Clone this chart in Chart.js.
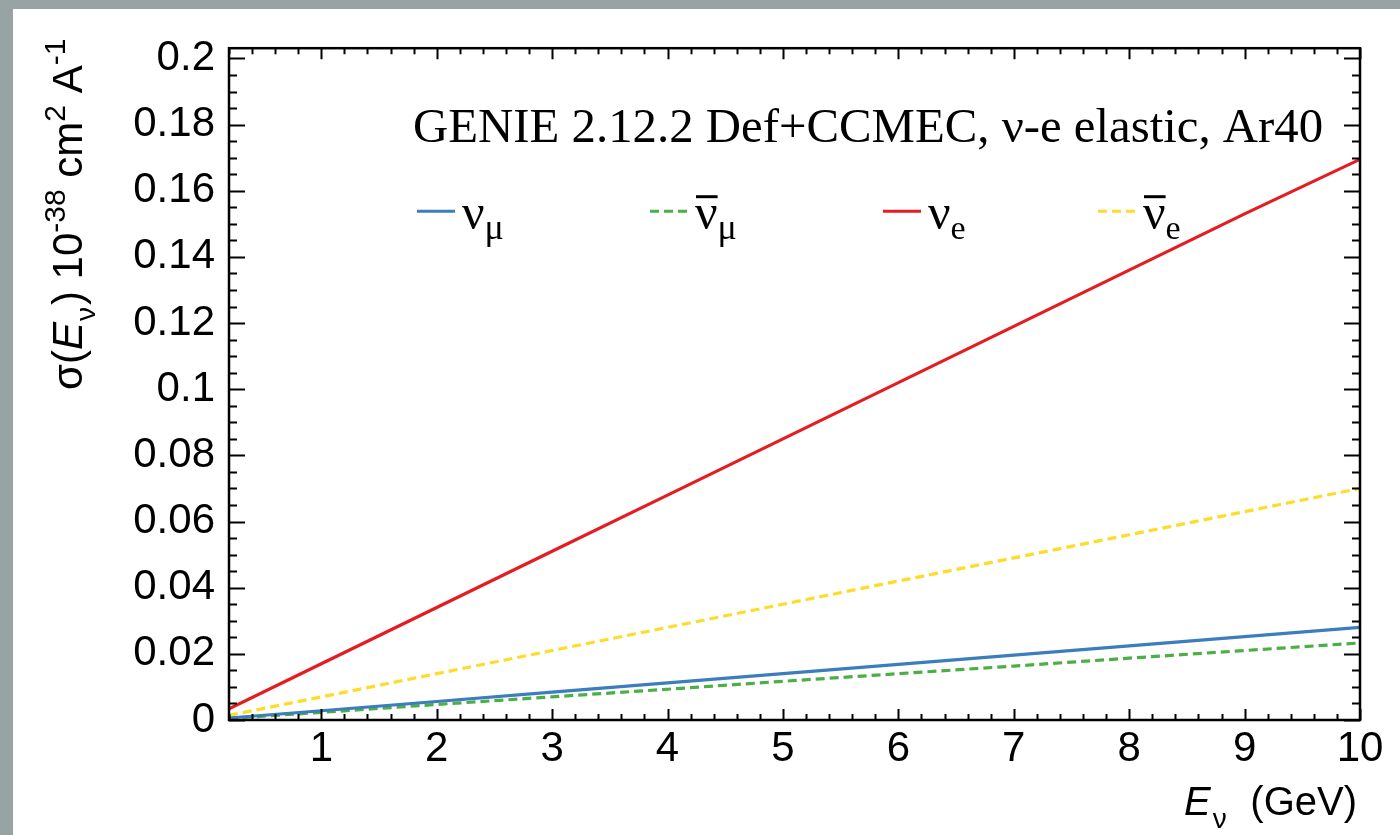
<!DOCTYPE html>
<html>
<head>
<meta charset="utf-8">
<script src="https://cdn.jsdelivr.net/npm/chart.js@4.4.1/dist/chart.umd.min.js"></script>
<style>
  html, body { margin: 0; padding: 0; background: #98a4a4; }
  #wrap { position: absolute; left: 13px; top: 9px; width: 1387px; height: 826px; background: #fff; }
</style>
</head>
<body>
<div id="wrap"><canvas id="xsec"></canvas></div>
<script>
// cross sections, 10^-38 cm^2 per nucleon
const energies = [0.2, 1, 2, 3, 4, 5, 6, 7, 8, 9, 10]
const numu    = [0.0006, 0.0028, 0.0056, 0.0084, 0.0112, 0.0140, 0.0168, 0.0196, 0.0224, 0.0252, 0.0280]
const numubar = [0.0005, 0.0023, 0.0047, 0.0070, 0.0093, 0.0117, 0.0140, 0.0163, 0.0187, 0.0210, 0.0233]
const nue     = [0.0034, 0.0170, 0.0340, 0.0510, 0.0680, 0.0850, 0.1020, 0.1190, 0.1360, 0.1530, 0.1695]
const nuebar  = [0.0014, 0.0070, 0.0140, 0.0210, 0.0280, 0.0350, 0.0420, 0.0490, 0.0560, 0.0630, 0.0700]

const xTicks = [1, 2, 3, 4, 5, 6, 7, 8, 9, 10]
const yTicks = [0, 0.02, 0.04, 0.06, 0.08, 0.1, 0.12, 0.14, 0.16, 0.18, 0.2]
const yTickLabels = ['0', '0.02', '0.04', '0.06', '0.08', '0.1', '0.12', '0.14', '0.16', '0.18', '0.2']

const titleText = 'GENIE 2.12.2 Def+CCMEC, \u03bd-e elastic, Ar40'
const legendMain = ['\u03bd', '\u03bd', '\u03bd', '\u03bd']
const legendSub = ['\u03bc', '\u03bc', 'e', 'e']
const legendBar = [false, true, false, true]

const SANS = '"Liberation Sans", Arial, sans-serif'
const SERIF = '"Liberation Serif", "Times New Roman", serif'

function pts(ys) {
    return energies.map((e, i) => ({ x: e, y: ys[i] }))
}

// draws runs of text with sub/superscripts, left to right from (x, y) baseline
function drawRuns(ctx, runs, x, y) {
    runs.forEach(r => {
        ctx.font = (r.italic ? 'italic ' : '') + r.size + 'px ' + r.family
        ctx.fillText(r.text, x, y + (r.dy || 0))
        x += ctx.measureText(r.text).width + (r.gap || 0)
    })
    return x
}

const rootFrame = {
    id: 'rootFrame',
    afterDraw(chart) {
        const ctx = chart.ctx
        const a = chart.chartArea
        const xs = chart.scales.x
        const ys = chart.scales.y
        ctx.save()
        ctx.strokeStyle = '#000'
        ctx.fillStyle = '#000'

        // ticks inside the frame, all four sides
        ctx.lineWidth = 2
        ctx.beginPath()
        for (let i = 1; i <= 50; i++) {
            const px = Math.round(xs.getPixelForValue(i * 0.2)) + 0.5
            const len = i % 5 === 0 ? 11 : 6
            ctx.moveTo(px, a.bottom); ctx.lineTo(px, a.bottom - len)
            ctx.moveTo(px, a.top); ctx.lineTo(px, a.top + len)
        }
        for (let i = 0; i <= 40; i++) {
            const py = Math.round(ys.getPixelForValue(i * 0.005)) + 0.5
            const len = i % 4 === 0 ? 16 : 8
            ctx.moveTo(a.left, py); ctx.lineTo(a.left + len, py)
            ctx.moveTo(a.right, py); ctx.lineTo(a.right - len, py)
        }
        ctx.stroke()

        ctx.lineWidth = 2.5
        ctx.strokeRect(a.left, a.top, a.right - a.left, a.bottom - a.top)

        // title
        ctx.textAlign = 'left'
        ctx.textBaseline = 'alphabetic'
        ctx.font = '48.8px ' + SERIF
        ctx.fillText(titleText, a.left + 184, a.top + 94)

        // legend
        const lx = [188, 421, 654, 869]
        const ly = a.top + 163
        chart.data.datasets.forEach((ds, i) => {
            const x0 = a.left + lx[i]
            ctx.strokeStyle = ds.borderColor
            ctx.lineWidth = 3
            ctx.setLineDash(ds.borderDash || [])
            ctx.beginPath()
            ctx.moveTo(x0, ly); ctx.lineTo(x0 + 38, ly)
            ctx.stroke()
            ctx.setLineDash([])
            const tx = x0 + 45
            const base = ly + 18
            ctx.font = '50px ' + SERIF
            const w = ctx.measureText(legendMain[i]).width
            drawRuns(ctx, [
                { text: legendMain[i], size: 50, family: SERIF },
                { text: legendSub[i], size: i < 2 ? 36 : 34, family: SERIF, dy: 10 }
            ], tx, base)
            if (legendBar[i]) {
                ctx.fillRect(tx + 1, ly - 16, w - 1, 3)
            }
        })

        // y axis title, rotated
        ctx.save()
        ctx.translate(69, 381)
        ctx.rotate(-Math.PI / 2)
        drawRuns(ctx, [
            { text: '\u03c3(', size: 42, family: SANS },
            { text: 'E', size: 42, family: SANS, italic: true, gap: 1 },
            { text: '\u03bd', size: 28, family: SANS, dy: 13, gap: 2 },
            { text: ') 10', size: 42, family: SANS },
            { text: '-38', size: 30, family: SANS, dy: -17 },
            { text: ' cm', size: 42, family: SANS },
            { text: '2', size: 30, family: SANS, dy: -17 },
            { text: ' A', size: 42, family: SANS },
            { text: '-1', size: 30, family: SANS, dy: -17 }
        ], 0, 0)
        ctx.restore()

        // x axis title: E_nu on the left, (GeV) right aligned to the frame
        const base = a.bottom + 95
        drawRuns(ctx, [
            { text: 'E', size: 40, family: SANS, italic: true, gap: 2 },
            { text: '\u03bd', size: 28, family: SANS, dy: 13 }
        ], a.right - 176, base)
        ctx.font = '40px ' + SANS
        ctx.textAlign = 'right'
        ctx.fillText('(GeV)', a.right - 3, base)

        ctx.restore()
    }
}

const chart = new Chart(document.getElementById('xsec'), {
    type: 'line',
    data: {
        datasets: [
            { label: 'numu', data: pts(numu), borderColor: '#3b7dbd', borderWidth: 3.2 },
            { label: 'numubar', data: pts(numubar), borderColor: '#4caf46', borderWidth: 3.2, borderDash: [9, 5] },
            { label: 'nue', data: pts(nue), borderColor: '#e41d22', borderWidth: 3.2 },
            { label: 'nuebar', data: pts(nuebar), borderColor: '#fedc2a', borderWidth: 3.2, borderDash: [9, 5] }
        ]
    },
    options: {
        responsive: true,
        maintainAspectRatio: false,
        animation: false,
        elements: { point: { radius: 0 }, line: { tension: 0 } },
        layout: { padding: { top: 38, right: 40, left: 0, bottom: 0 } },
        plugins: { legend: { display: false }, tooltip: { enabled: false } },
        scales: {
            x: {
                type: 'linear',
                min: 0.2,
                max: 10,
                grid: { display: false, drawTicks: false },
                border: { display: false },
                afterBuildTicks: s => { s.ticks = xTicks.map(v => ({ value: v })) },
                afterFit: s => { s.height = 115 },
                ticks: {
                    color: '#000',
                    padding: 4,
                    maxRotation: 0,
                    font: { family: SANS, size: 42 },
                    callback: v => String(v)
                }
            },
            y: {
                type: 'linear',
                min: 0,
                max: 0.2031,
                grid: { display: false, drawTicks: false },
                border: { display: false },
                afterBuildTicks: s => { s.ticks = yTicks.map(v => ({ value: v })) },
                afterFit: s => { s.width = 216 },
                ticks: {
                    color: '#000',
                    padding: 14,
                    font: { family: SANS, size: 42 },
                    callback: (v, i) => yTickLabels[i]
                }
            }
        }
    },
    plugins: [rootFrame]
})
</script>
</body>
</html>
